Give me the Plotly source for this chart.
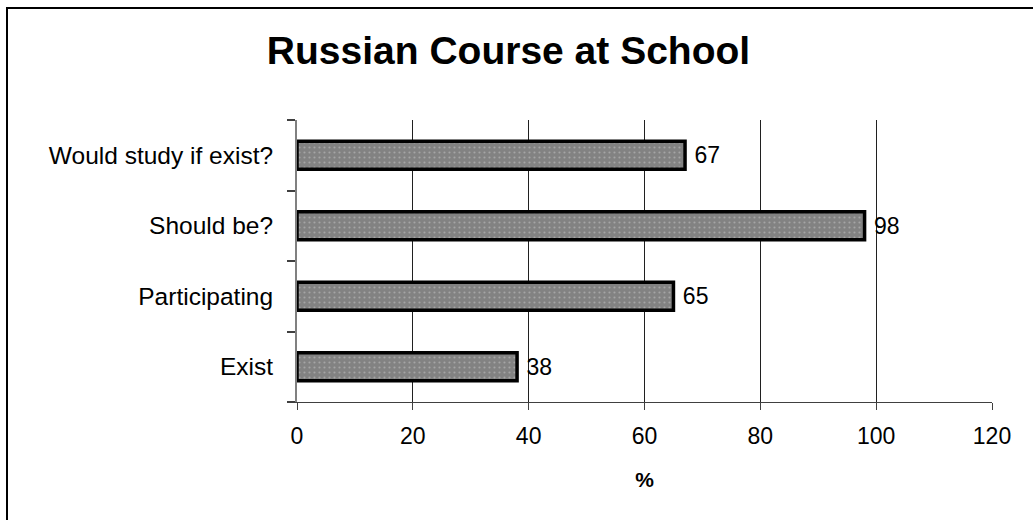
import plotly.graph_objects as go

# Survey answers, bottom to top
categories = ["Exist", "Participating", "Should be?", "Would study if exist?"]
percent = [38, 65, 98, 67]

x_ticks = [0, 20, 40, 60, 80, 100, 120]
grid_at = [20, 40, 60, 80, 100]

FONT = "Liberation Sans, Arial, sans-serif"

fig = go.Figure()
fig.add_trace(go.Bar(
    x=percent,
    y=categories,
    orientation="h",
    width=0.4,
    marker=dict(
        color="#828282",
        line=dict(color="black", width=3.5),
        pattern=dict(shape=".", fgcolor="#c8c8c8", bgcolor="#828282",
                     size=5, solidity=0.15),
    ),
    texttemplate=" %{x}",
    textposition="outside",
    textfont=dict(family=FONT, size=23, color="black"),
    cliponaxis=False,
    hoverinfo="skip",
))

fig.update_layout(
    width=1033,
    height=520,
    margin=dict(l=297, r=41, t=120, b=118, autoexpand=False),
    paper_bgcolor="white",
    plot_bgcolor="white",
    showlegend=False,
    font=dict(family=FONT, size=23, color="black"),
    title=dict(
        text="<b>Russian Course at School</b>",
        font=dict(family=FONT, size=39, color="black"),
        x=508.5 / 1033, xanchor="center",
        y=1 - 50 / 520, yanchor="middle", yref="container",
    ),
    xaxis=dict(
        range=[0, 120],
        tickvals=x_ticks,
        ticktext=[str(v) for v in x_ticks],
        ticks="outside", ticklen=7, tickcolor="#404040", tickwidth=1,
        showline=True, linecolor="#404040", linewidth=1,
        showgrid=False, zeroline=False,
        minor=dict(tickvals=grid_at, showgrid=True, gridcolor="#202020",
                   gridwidth=1, ticks=""),
        title=dict(text="<b>%</b>", font=dict(family=FONT, size=21),
                   standoff=24),
        tickfont=dict(family=FONT, size=23),
        ticklabelstandoff=6,
    ),
    yaxis=dict(
        categoryorder="array", categoryarray=categories,
        tickson="boundaries",
        ticks="outside", ticklen=8, tickcolor="#404040", tickwidth=2,
        showline=True, linecolor="#808080", linewidth=2,
        showgrid=False, zeroline=False,
        tickfont=dict(family=FONT, size=24.5),
        ticklabelstandoff=17,
    ),
    shapes=[dict(
        type="rect", xref="paper", yref="paper",
        x0=(7 - 297) / 695, x1=1.5,
        y0=-1.0, y1=(402 - 8) / 282,
        line=dict(color="black", width=2),
        fillcolor="rgba(0,0,0,0)", layer="below",
    )],
)

fig.write_html("out.html")
